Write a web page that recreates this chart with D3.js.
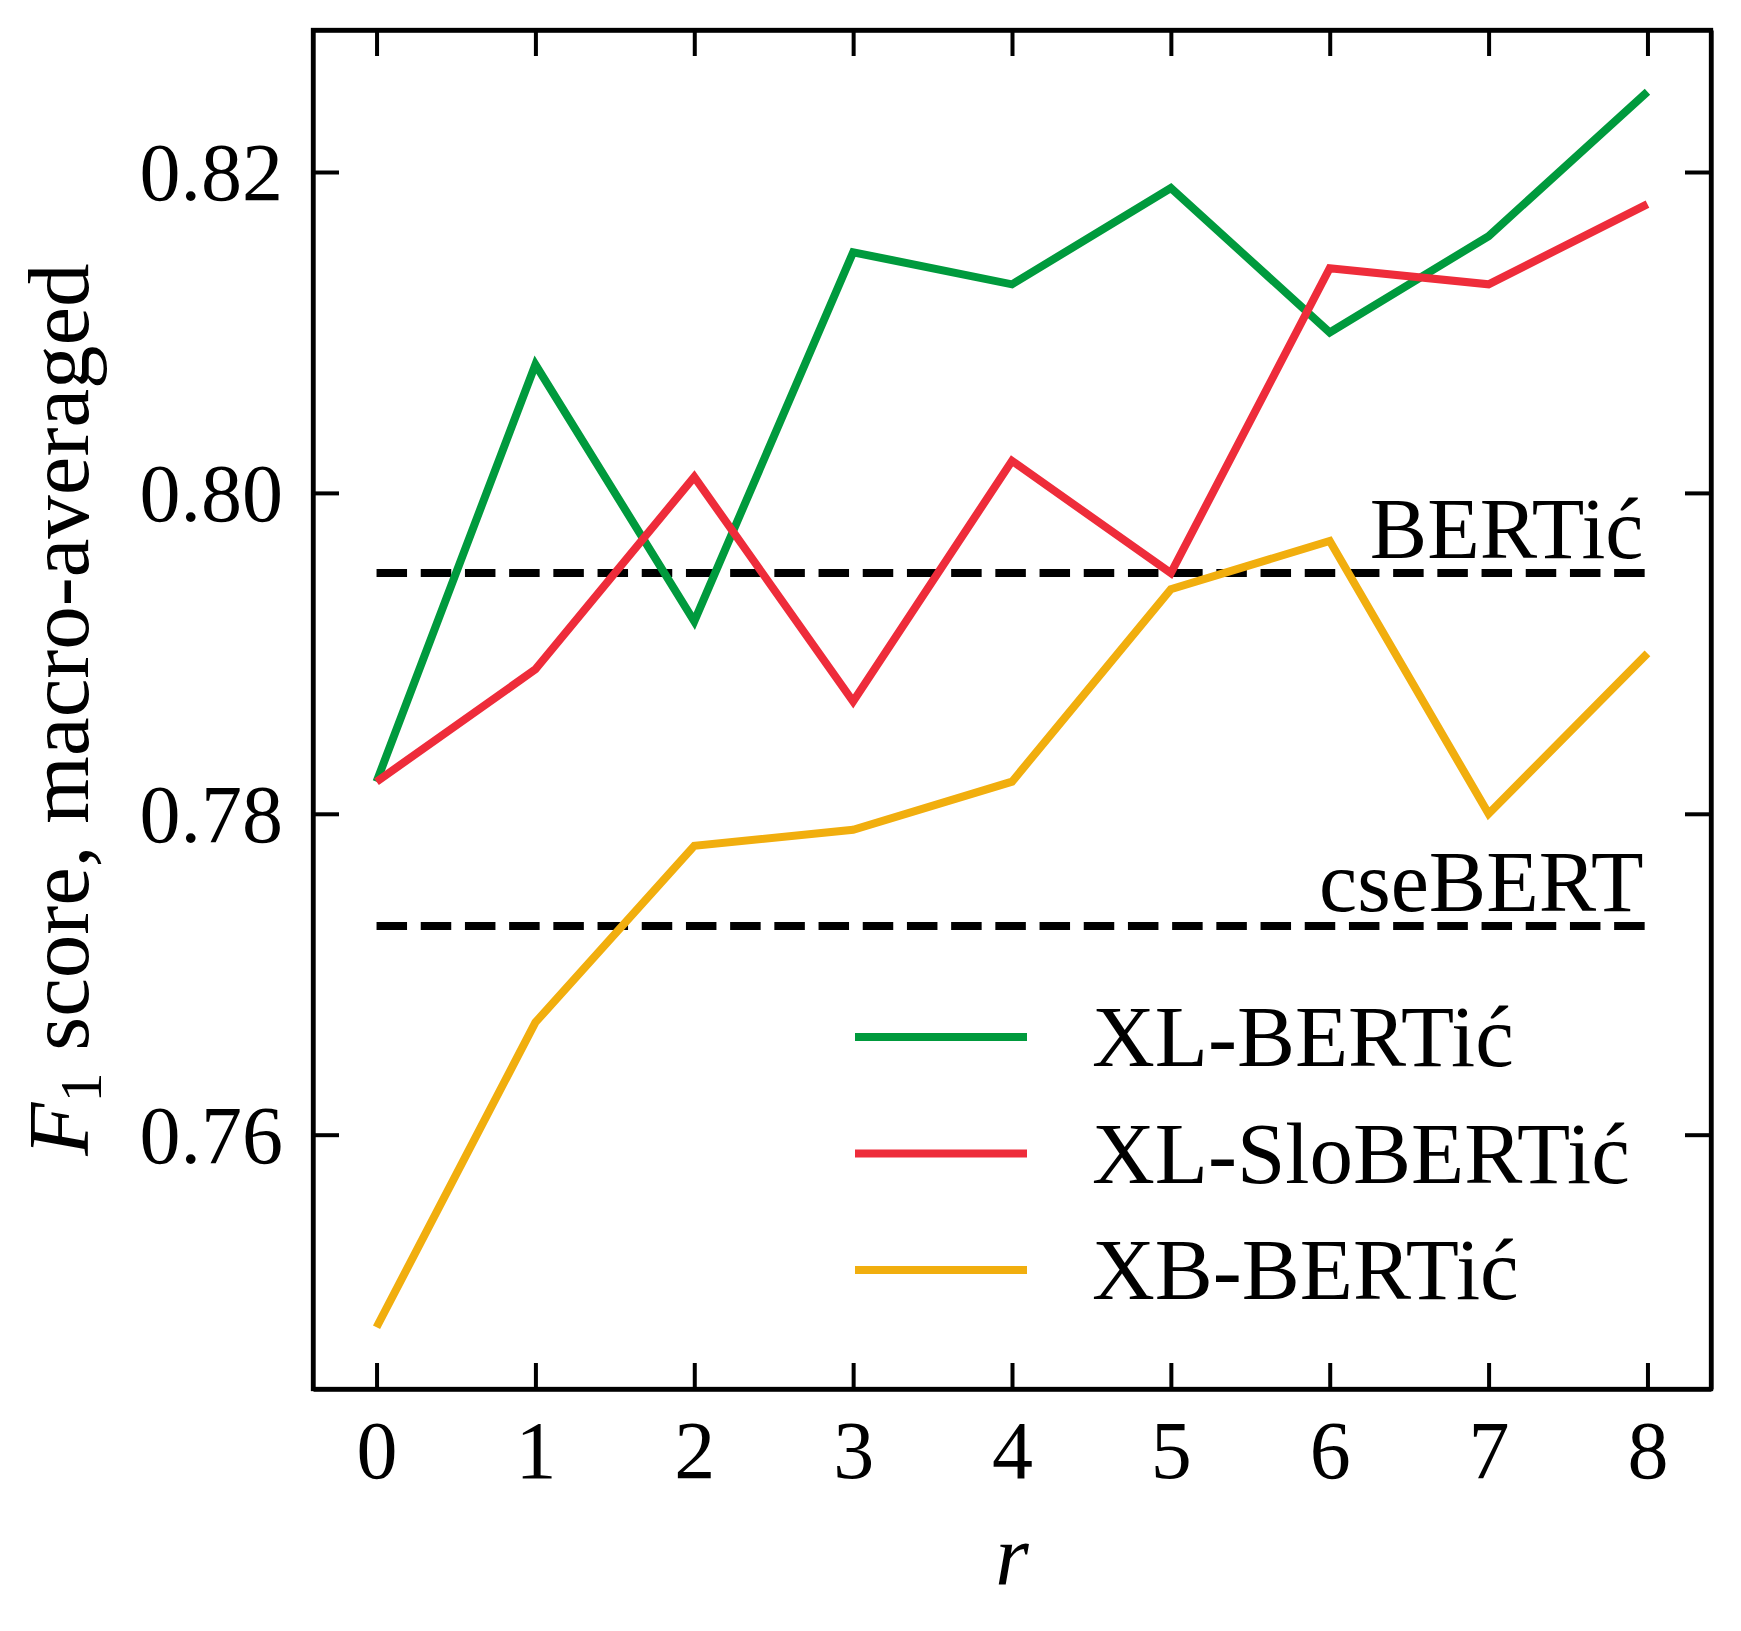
<!DOCTYPE html>
<head>
<meta charset="utf-8">
<title>F1 score vs r</title>
<style>
body { margin: 0; background: #fff; }
svg text { font-family: "Liberation Serif", "Times New Roman", "DejaVu Serif", serif; fill: #000; }
.axis path { stroke: #000; stroke-width: 4.3; }
.axis line { stroke: #000; stroke-width: 4; }
.axis text { font-size: 82px; }
</style>
</head>
<body>
<svg id="chart"></svg>
<script src="https://d3js.org/d3.v7.min.js"></script>
<script>

// data
var rounds = [0, 1, 2, 3, 4, 5, 6, 7, 8];
var xlBertic    = [0.782, 0.808, 0.792, 0.815, 0.813, 0.819, 0.810, 0.816, 0.825];
var xlSloBertic = [0.782, 0.789, 0.801, 0.787, 0.802, 0.795, 0.814, 0.813, 0.818];
var xbBertic    = [0.748, 0.767, 0.778, 0.779, 0.782, 0.794, 0.797, 0.780, 0.790];
var seriesNames = ["XL-BERTić", "XL-SloBERTić", "XB-BERTić"];
var seriesColors = ["#009a3d", "#ee2c3a", "#f1ae0e"];
var baselineNames = ["BERTić", "cseBERT"];
var baselineValues = [0.795, 0.773];
var yTicks = [0.76, 0.78, 0.80, 0.82];

var W = 1741, H = 1631;
var margin = {top: 30, right: 30, bottom: 242, left: 313},
    width = 1711 - margin.left,
    height = 1389 - margin.top;
var FONT = "Liberation Serif";

var svg = d3.select("#chart")
    .attr("width", W)
    .attr("height", H);

svg.append("rect").attr("width", W).attr("height", H).attr("fill", "#fff");

var g = svg.append("g")
    .attr("transform", "translate(" + margin.left + "," + margin.top + ")");

var x = d3.scaleLinear()
    .domain([-0.4, 8.4])
    .range([0, width]);

var y = d3.scaleLinear()
    .domain([0.74415, 0.82885])
    .range([height, 0]);

var tick = 26;

var gxb = g.append("g").attr("class", "axis")
    .attr("transform", "translate(0," + height + ")")
    .call(d3.axisBottom(x).tickValues(rounds).tickSizeInner(-tick).tickSizeOuter(0).tickPadding(0).tickFormat(d3.format("d")));
gxb.attr("font-family", FONT);
gxb.selectAll("text").attr("dy", null).attr("y", 89);

g.append("g").attr("class", "axis")
    .call(d3.axisTop(x).tickValues(rounds).tickSizeInner(-tick).tickSizeOuter(0).tickFormat(""));

var gyl = g.append("g").attr("class", "axis")
    .call(d3.axisLeft(y).tickValues(yTicks).tickSizeInner(-tick).tickSizeOuter(0).tickPadding(30).tickFormat(d3.format(".2f")));
gyl.attr("font-family", FONT);
gyl.selectAll("text").attr("dy", "0.34em");

g.append("g").attr("class", "axis")
    .attr("transform", "translate(" + width + ",0)")
    .call(d3.axisRight(y).tickValues(yTicks).tickSizeInner(-tick).tickSizeOuter(0).tickFormat(""));

// frame
g.append("rect")
    .attr("width", width)
    .attr("height", height)
    .attr("fill", "none")
    .attr("stroke", "#000")
    .attr("stroke-width", 4.3);

// baselines
baselineValues.forEach(function(v, i) {
  g.append("line")
    .attr("x1", x(0)).attr("x2", x(8))
    .attr("y1", y(v)).attr("y2", y(v))
    .attr("stroke", "#000")
    .attr("stroke-width", 8)
    .attr("stroke-dasharray", "30.5,13.7");
  g.append("text")
    .attr("x", x(8) - 4)
    .attr("y", y(v) - 15)
    .attr("text-anchor", "end")
    .attr("font-size", 86)
    .text(baselineNames[i]);
});

var line = d3.line()
    .x(function(d, i) { return x(rounds[i]); })
    .y(function(d) { return y(d); });

var series = [xlBertic, xlSloBertic, xbBertic];
series.forEach(function(s, i) {
  g.append("path")
    .datum(s)
    .attr("d", line)
    .attr("fill", "none")
    .attr("stroke", seriesColors[i])
    .attr("stroke-width", 8)
    .attr("stroke-linejoin", "miter");
});

// legend
var legend = svg.append("g").attr("transform", "translate(855,1037)");
seriesNames.forEach(function(n, i) {
  var row = legend.append("g").attr("transform", "translate(0," + (i * 116.5) + ")");
  row.append("line")
    .attr("x1", 0).attr("x2", 172)
    .attr("stroke", seriesColors[i])
    .attr("stroke-width", 8);
  row.append("text")
    .attr("x", 237)
    .attr("y", 29)
    .attr("font-size", 87)
    .text(n);
});

// axis labels
svg.append("text")
    .attr("x", margin.left + width / 2)
    .attr("y", 1585)
    .attr("text-anchor", "middle")
    .attr("font-size", 86)
    .attr("font-style", "italic")
    .text("r");

var yl = svg.append("text")
    .attr("transform", "translate(88," + (margin.top + height / 2) + ") rotate(-90)")
    .attr("text-anchor", "middle")
    .attr("font-size", 87);
yl.append("tspan").attr("font-style", "italic").text("F");
yl.append("tspan").attr("font-size", 60).attr("dy", 13).text("1");
yl.append("tspan").attr("dy", -13).text(" score, macro-averaged");

</script>
</body>
